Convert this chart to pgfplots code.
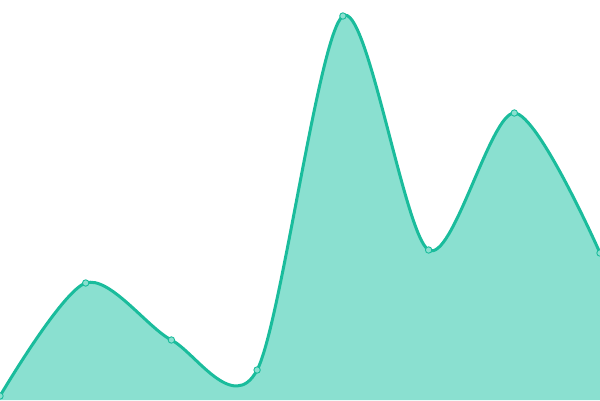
\documentclass[border=0pt]{standalone}
\usepackage{pgfplots}
\pgfplotsset{compat=1.18}
\definecolor{line}{HTML}{1ABC9C}
\definecolor{area}{HTML}{8AE0D0}
\begin{document}
\begin{tikzpicture}
\useasboundingbox (0,0) rectangle (600pt,400pt);
\begin{axis}[
  scale only axis,
  width=600pt, height=400pt,
  xmin=0, xmax=600, ymin=0, ymax=400,
  hide axis,
  clip=true,
  clip marker paths=true,
  anchor=south west, at={(0,0)},
]
\addplot[draw=none, fill=area, smooth, tension=0.5, forget plot]
  coordinates {(0,4) (85.7,117) (171.4,60) (257.1,30) (342.9,384) (428.6,150) (514.3,287) (600,147)} \closedcycle;
\addplot[line, line width=3pt, smooth, tension=0.5,
  mark=*, mark size=3.2pt,
  mark options={fill=area, draw=line, line width=0.9pt, solid}]
  coordinates {(0,4) (85.7,117) (171.4,60) (257.1,30) (342.9,384) (428.6,150) (514.3,287) (600,147)};
\end{axis}
\end{tikzpicture}
\end{document}
